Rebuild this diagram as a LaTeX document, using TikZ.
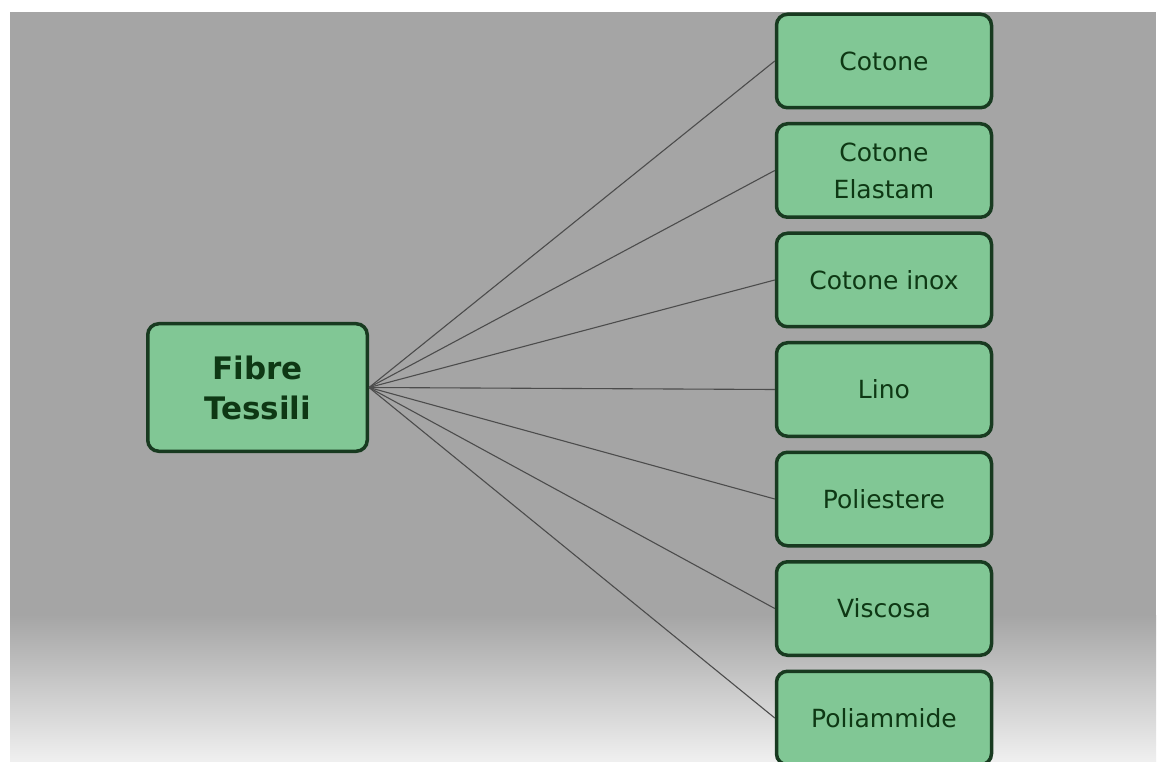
\documentclass[tikz,border=0pt]{standalone}
\usepackage{fontspec}
\setmainfont{DejaVu Sans}
\usetikzlibrary{positioning}
\definecolor{boxfill}{RGB}{129,199,149}
\definecolor{boxline}{RGB}{24,58,32}
\definecolor{boxtext}{RGB}{14,56,20}
\definecolor{backgray}{RGB}{165,165,165}
\def\BoxWidth{215pt}
\def\BoxHeight{93.5pt}
\def\BoxGap{12.5pt}

\begin{document}
\begin{tikzpicture}[x=1pt,y=1pt,
  fibra/.style={draw=boxline,fill=boxfill,line width=3.5pt,rounded corners=11pt,
    minimum width=\BoxWidth,minimum height=\BoxHeight,align=center,text=boxtext,
    font=\fontsize{25}{37}\selectfont},
  radice/.style={fibra,minimum width=219.5pt,minimum height=127.5pt,
    font=\fontsize{31}{40}\selectfont\bfseries},
  ramo/.style={draw=black!70,line width=1.1pt}]
	% sfondo
	\fill[white] (0,0) rectangle (1163,-762);
	\useasboundingbox (0,0) rectangle (1163,-762);
	\fill[backgray] (10,-12) rectangle (1156,-615);
	\shade[top color=backgray,bottom color=black!6] (10,-615) rectangle (1156,-762);
	% 
	\node[radice] (fibre) at (257.5,-387.5) {Fibre\\Tessili};
	\node[fibra] (cotone) at (884,-61) {Cotone};
	\node[fibra,below=\BoxGap of cotone] (elastam) {Cotone\\Elastam};
	\node[fibra,below=\BoxGap of elastam] (inox) {Cotone inox};
	\node[fibra,below=\BoxGap of inox] (lino) {Lino};
	\node[fibra,below=\BoxGap of lino] (poliestere) {Poliestere};
	\node[fibra,below=\BoxGap of poliestere] (viscosa) {Viscosa};
	\node[fibra,below=\BoxGap of viscosa] (poliammide) {Poliammide};
	% 
	\foreach \f in {cotone,elastam,inox,lino,poliestere,viscosa,poliammide}
		\draw[ramo] (fibre.east) -- (\f.west);
\end{tikzpicture}
\end{document}
